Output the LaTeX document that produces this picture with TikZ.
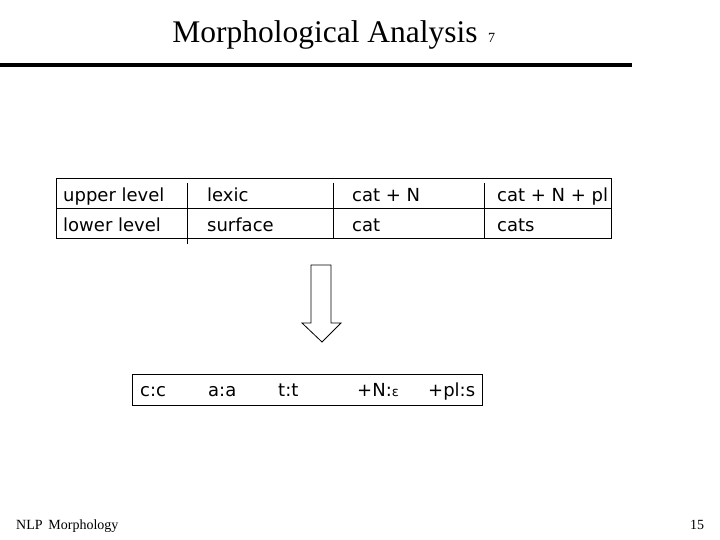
\documentclass[tikz,border=0pt]{standalone}
\usepackage{fontspec}
\setmainfont{Liberation Serif}
\newfontfamily\cellfont{DejaVu Sans}
\usepackage{tikz}
\usetikzlibrary{positioning}

\begin{document}
\begin{tikzpicture}[x=1pt, y=-1pt,
  ttl/.style={font=\fontsize{31.5}{34}\selectfont, anchor=base, inner sep=0pt},
  small/.style={font=\fontsize{14}{16}\selectfont, anchor=base west, inner sep=0pt},
  cell/.style={font=\cellfont\fontsize{18}{21}\selectfont, anchor=base west, inner sep=0pt},
  box/.style={draw, line width=1pt},
  blockarr/.style={draw, line width=0.8pt, fill=white}
]
\useasboundingbox (0,0) rectangle (720,540);

% title and rule
\node[ttl] (title) at (325,43) {Morphological Analysis};
\node[small, right=10pt of title.base east, anchor=base west] (num) {7};
\draw[line width=4pt] (0,65.5) -- (632,65.5);

% levels table
\draw[box] (56,179) rectangle (611,238);
\draw[box] (56,209) -- (611,209);
\draw[box] (187,183) -- (187,244);
\draw[box] (333,183) -- (333,238);
\draw[box] (484,183) -- (484,238);

\node[cell] (up)  at (63,202)  {upper level};
\node[cell] (lo)  at (63,231)  {lower level};
\node[cell] (lx)  at (207,202) {lexic};
\node[cell] (sf)  at (207,231) {surface};
\node[cell] (cn)  at (352,202) {cat + N};
\node[cell] (ct)  at (352,231) {cat};
\node[cell] (cnp) at (497,202) {cat + N + pl};
\node[cell] (cts) at (497,231) {cats};

% hollow arrow
\coordinate (tip) at (322,342);
\draw[blockarr] (311,265) -- (331,265) -- (331,323) -- (341,323) -- (tip)
  -- (302,323) -- (311,323) -- cycle;

% pairs
\draw[box] (132,374) rectangle (482,405);
\node[cell] (p1) at (140,396) {c:c};
\node[cell] (p2) at (208,396) {a:a};
\node[cell] (p3) at (278,396) {t:t};
\node[cell] (p4) at (357,396) {+N:{\fontsize{13}{15}\selectfont ε}};
\node[cell] (p5) at (428,396) {+pl:s};

% footer
\node[small] (foot) at (16,529) {NLP\, Morphology};
\node[small] (page) at (690,529) {15};
\end{tikzpicture}
\end{document}
